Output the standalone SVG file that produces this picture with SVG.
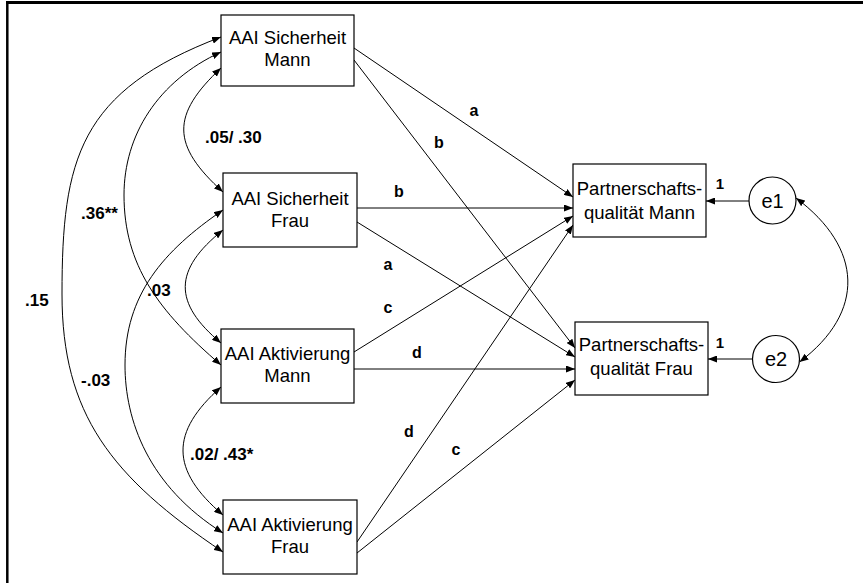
<svg xmlns="http://www.w3.org/2000/svg" width="863" height="583" viewBox="0 0 863 583">
<style>
.box{fill:#fff;stroke:#000;stroke-width:1.2}
.nt{font-family:"Liberation Sans",Arial,sans-serif;font-size:18.5px;text-anchor:middle;fill:#000}
.et{font-family:"Liberation Sans",Arial,sans-serif;font-size:20px;text-anchor:middle;fill:#000}
.ln{fill:none;stroke:#000;stroke-width:1}
.lb{font-family:"Liberation Sans",Arial,sans-serif;font-size:16px;font-weight:bold;fill:#000;text-anchor:middle}
.cl{font-family:"Liberation Sans",Arial,sans-serif;font-size:17px;font-weight:bold;fill:#000}
.one{font-family:"Liberation Sans",Arial,sans-serif;font-size:15px;font-weight:bold;fill:#000;text-anchor:middle}
</style>
<defs>
<marker id="ah" viewBox="0 0 9 7" refX="9" refY="3.5" markerWidth="9" markerHeight="7" markerUnits="userSpaceOnUse" orient="auto-start-reverse">
<path d="M0,0 L9,3.5 L0,7 Z" fill="#000"/>
</marker>
</defs>
<rect width="863" height="583" fill="#fff"/>
<g id="frame">
<line x1="6" y1="2.5" x2="863" y2="2.5" stroke="#000" stroke-width="3"/>
<line x1="7.3" y1="1" x2="7.3" y2="583" stroke="#000" stroke-width="2.5"/>
</g>
<g id="connectors">
<line class="ln" x1="354" y1="48" x2="573" y2="197" marker-end="url(#ah)"/>
<line class="ln" x1="354" y1="60" x2="575" y2="348" marker-end="url(#ah)"/>
<line class="ln" x1="357" y1="208" x2="573" y2="208" marker-end="url(#ah)"/>
<line class="ln" x1="357" y1="222" x2="575" y2="357" marker-end="url(#ah)"/>
<line class="ln" x1="354" y1="352" x2="573" y2="216" marker-end="url(#ah)"/>
<line class="ln" x1="354" y1="369" x2="575" y2="369" marker-end="url(#ah)"/>
<line class="ln" x1="357" y1="542" x2="573" y2="225" marker-end="url(#ah)"/>
<line class="ln" x1="357" y1="553" x2="575" y2="380" marker-end="url(#ah)"/>
<line class="ln" x1="749" y1="201" x2="706" y2="201" marker-end="url(#ah)"/>
<line class="ln" x1="752.5" y1="359" x2="708" y2="359" marker-end="url(#ah)"/>
<path class="ln" d="M221,37 C79,91 62,159 62,294 C62,414 111,477 223,552" marker-start="url(#ah)" marker-end="url(#ah)"/>
<path class="ln" d="M221,52 C158,81 124,135 124,195 C124,265 158,311 221,365" marker-start="url(#ah)" marker-end="url(#ah)"/>
<path class="ln" d="M221,68 C171,115 171,145 223,192" marker-start="url(#ah)" marker-end="url(#ah)"/>
<path class="ln" d="M223,210 C163,251 125,295 125,365 C125,420 148,486 223,533" marker-start="url(#ah)" marker-end="url(#ah)"/>
<path class="ln" d="M223,230 C173,270 173,303 221,343" marker-start="url(#ah)" marker-end="url(#ah)"/>
<path class="ln" d="M221,387 C170,432 170,470 223,515" marker-start="url(#ah)" marker-end="url(#ah)"/>
<path class="ln" d="M796,198 C863,248 866,312 799.5,362" marker-start="url(#ah)" marker-end="url(#ah)"/>
<text class="lb" x="474" y="116">a</text>
<text class="lb" x="439" y="148">b</text>
<text class="lb" x="399" y="197">b</text>
<text class="lb" x="388" y="270">a</text>
<text class="lb" x="388" y="313">c</text>
<text class="lb" x="417" y="358">d</text>
<text class="lb" x="409" y="437">d</text>
<text class="lb" x="456" y="455">c</text>
<text class="one" x="720" y="189">1</text>
<text class="one" x="720" y="348">1</text>
<text class="cl" x="205" y="143">.05/ .30</text>
<text class="cl" x="81" y="219">.36**</text>
<text class="cl" x="25" y="306">.15</text>
<text class="cl" x="147" y="296">.03</text>
<text class="cl" x="81" y="386">-.03</text>
<text class="cl" x="190" y="460">.02/ .43*</text>
</g>
<g id="n_sm">
<rect class="box" x="221" y="15" width="133" height="71"/>
<text class="nt" x="287.5" y="43.5">AAI Sicherheit</text>
<text class="nt" x="287.5" y="66">Mann</text>
</g>
<g id="n_sf">
<rect class="box" x="223" y="173" width="134" height="74"/>
<text class="nt" x="290" y="205">AAI Sicherheit</text>
<text class="nt" x="290" y="227">Frau</text>
</g>
<g id="n_am">
<rect class="box" x="221" y="329" width="133" height="74"/>
<text class="nt" x="287.5" y="360">AAI Aktivierung</text>
<text class="nt" x="287.5" y="382">Mann</text>
</g>
<g id="n_af">
<rect class="box" x="223" y="500" width="134" height="74"/>
<text class="nt" x="290" y="531">AAI Aktivierung</text>
<text class="nt" x="290" y="553">Frau</text>
</g>
<g id="n_pm">
<rect class="box" x="573" y="164" width="133" height="73"/>
<text class="nt" x="639.5" y="194.5">Partnerschafts-</text>
<text class="nt" x="639.5" y="218.5">qualität Mann</text>
</g>
<g id="n_pf">
<rect class="box" x="575" y="322" width="133" height="73"/>
<text class="nt" x="641.5" y="351">Partnerschafts-</text>
<text class="nt" x="641.5" y="375">qualität Frau</text>
</g>
<g id="n_e1">
<circle class="box" cx="772.5" cy="200.5" r="23.5"/>
<text class="et" x="772.5" y="207.5">e1</text>
</g>
<g id="n_e2">
<circle class="box" cx="776" cy="359" r="23.5"/>
<text class="et" x="776" y="366">e2</text>
</g>
</svg>
